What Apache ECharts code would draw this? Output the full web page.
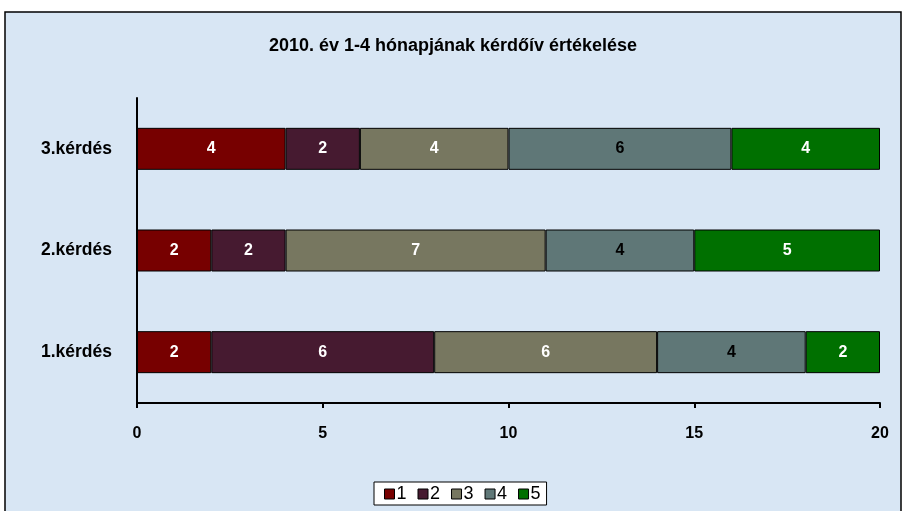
<!DOCTYPE html>
<html><head><meta charset="utf-8">
<script src="https://cdn.jsdelivr.net/npm/echarts@6/dist/echarts.min.js"></script>
<style>html,body{margin:0;padding:0;background:#fff}#c{width:906px;height:511px}</style>
</head><body><div id="c"></div>
<script>
const categories = ['1.kérdés', '2.kérdés', '3.kérdés'];
const seriesNames = ['1', '2', '3', '4', '5'];
const s1 = [2, 2, 4];
const s2 = [6, 2, 2];
const s3 = [6, 7, 4];
const s4 = [4, 4, 6];
const s5 = [2, 5, 4];
const xTicks = [0, 5, 10, 15, 20];

const colors = ['#770000', '#461a30', '#777760', '#5f7777', '#007000'];
const labelColors = ['#fff', '#fff', '#fff', '#000', '#fff'];
const values = [s1, s2, s3, s4, s5];
const FONT = 'Liberation Sans, Arial';

const chart = echarts.init(document.getElementById('c'));
chart.setOption({
  backgroundColor: '#fff',
  animation: false,
  graphic: [{
    type: 'rect', z: -10, silent: true,
    shape: { x: 5, y: 12, width: 896, height: 505 },
    style: { fill: '#d8e6f4', stroke: '#000', lineWidth: 1.5 }
  }],
  title: {
    text: '2010. év 1-4 hónapjának kérdőív értékelése',
    left: 'center', top: 32,
    textStyle: { fontFamily: FONT, fontSize: 18, fontWeight: 'bold', color: '#000' }
  },
  legend: {
    data: seriesNames,
    bottom: 6, left: 374,
    itemWidth: 10, itemHeight: 10, itemGap: 11,
    backgroundColor: '#fff', borderColor: '#000', borderWidth: 1,
    padding: [3, 6, 2, 10],
    icon: 'rect',
    itemStyle: { borderColor: '#000', borderWidth: 1 },
    textStyle: { fontFamily: FONT, fontSize: 18, color: '#000', padding: [0, 0, 0, -3] }
  },
  grid: { left: 137, right: 26, top: 98, bottom: 108 },
  xAxis: {
    type: 'value', min: xTicks[0], max: xTicks[xTicks.length - 1], interval: 5,
    axisLine: { show: true, lineStyle: { color: '#000', width: 2 } },
    axisTick: { show: true, length: 5, inside: false, lineStyle: { color: '#000', width: 2 } },
    splitLine: { show: false },
    axisLabel: { fontFamily: FONT, fontSize: 16, fontWeight: 'bold', color: '#000', margin: 23 }
  },
  yAxis: {
    type: 'category', data: categories,
    axisLine: { show: true, lineStyle: { color: '#000', width: 2 } },
    axisTick: { show: false },
    axisLabel: { fontFamily: FONT, fontSize: 17.5, fontWeight: 'bold', color: '#000', margin: 25 }
  },
  series: values.map((v, i) => ({
    name: seriesNames[i],
    type: 'bar', stack: 'total', data: v,
    barWidth: 42,
    itemStyle: { color: colors[i], borderColor: '#000', borderWidth: 1 },
    label: { show: true, position: 'inside', fontFamily: FONT, fontSize: 16, fontWeight: 'bold', color: labelColors[i] }
  }))
});
</script></body></html>
